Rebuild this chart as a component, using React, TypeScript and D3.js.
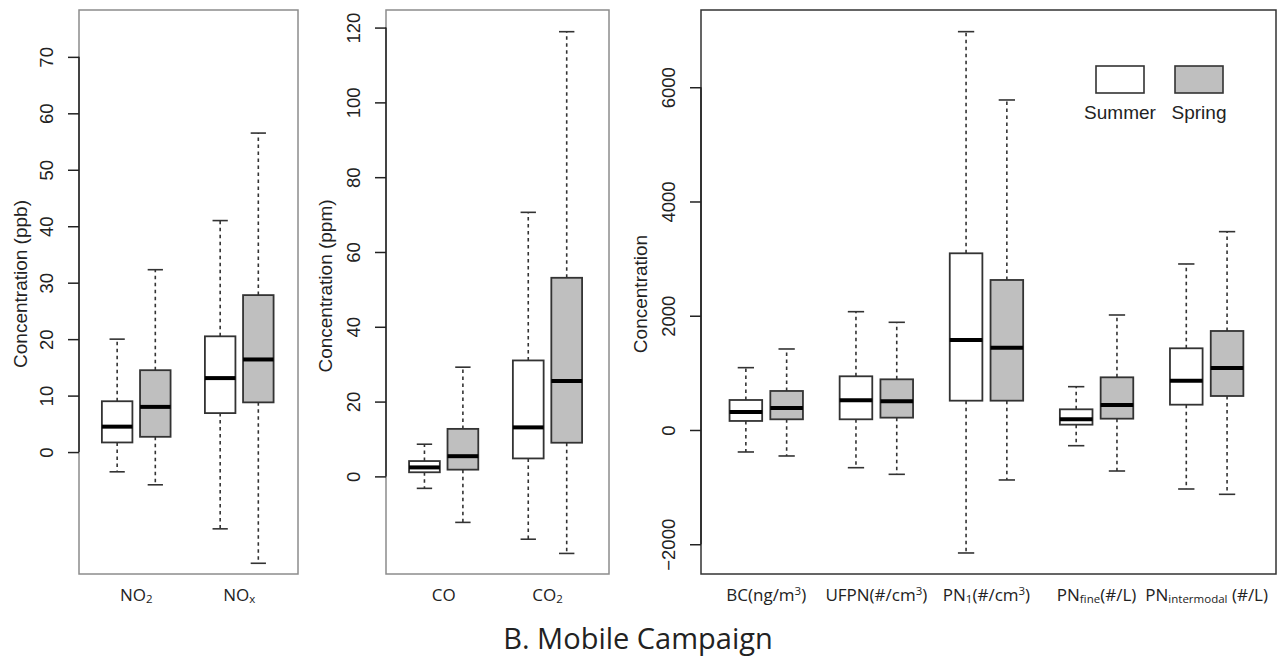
import React, { useEffect, useRef } from 'react';
import * as d3 from 'd3';

// each stat row: [lower whisker, Q1, median, Q3, upper whisker]
const nitroCats = ['NO2', 'NOx'];
const nitroSummer = [[-3.5, 1.7, 4.5, 9.0, 20.0], [-13.6, 6.9, 13.1, 20.5, 41.0]];
const nitroSpring = [[-5.8, 2.7, 8.0, 14.5, 32.3], [-19.7, 8.8, 16.4, 27.8, 56.5]];
const nitroTicks = [0, 10, 20, 30, 40, 50, 60, 70];

const carbonCats = ['CO', 'CO2'];
const carbonSummer = [[-3.2, 1.1, 2.4, 4.1, 8.6], [-16.8, 4.8, 13.1, 31.0, 70.6]];
const carbonSpring = [[-12.3, 1.8, 5.4, 12.7, 29.2], [-20.6, 9.0, 25.5, 53.1, 118.9]];
const carbonTicks = [0, 20, 40, 60, 80, 100, 120];

const particleCats = ['BC', 'UFPN', 'PN1', 'PNfine', 'PNintermodal'];
const particleSummer = [
    [-385, 158, 315, 525, 1091],
    [-660, 187, 520, 940, 2071],
    [-2153, 513, 1575, 3093, 6973],
    [-275, 93, 187, 362, 758],
    [-1033, 443, 863, 1430, 2906]
];
const particleSpring = [
    [-455, 187, 385, 683, 1418],
    [-776, 216, 502, 887, 1885],
    [-875, 513, 1441, 2626, 5777],
    [-718, 198, 438, 922, 2013],
    [-1126, 595, 1085, 1733, 3472]
];
const particleTicks = [-2000, 0, 2000, 4000, 6000];

const seasons = ['Summer', 'Spring'];

// label pieces: [text, kind] kind = '' | 'sub' | 'sup'
const labelParts = {
    NO2: [['NO', ''], ['2', 'sub']],
    NOx: [['NO', ''], ['x', 'sub']],
    CO: [['CO', '']],
    CO2: [['CO', ''], ['2', 'sub']],
    BC: [['BC(ng/m', ''], ['3', 'sup'], [')', '']],
    UFPN: [['UFPN(#/cm', ''], ['3', 'sup'], [')', '']],
    PN1: [['PN', ''], ['1', 'sub'], ['(#/cm', ''], ['3', 'sup'], [')', '']],
    PNfine: [['PN', ''], ['fine', 'sub'], ['(#/L)', '']],
    PNintermodal: [['PN', ''], ['intermodal', 'sub'], [' (#/L)', '']]
};

const W = 1285;
const H = 656;
const plotTop = 10;
const plotBottom = 574;

export default function App() {
    const svgRef = useRef<SVGSVGElement>(null);

    useEffect(() => {
        document.body.style.margin = '0';

        const panels = [
            { cats: nitroCats, summer: nitroSummer, spring: nitroSpring, ticks: nitroTicks,
              yDomain: [-21.6, 78.3], left: 79, right: 298, xDomain: [0, 5.74],
              ylab: 'Concentration (ppb)', ylabX: 27, ylabY: 284, frame: '#8c8c8c', legend: false },
            { cats: carbonCats, summer: carbonSummer, spring: carbonSpring, ticks: carbonTicks,
              yDomain: [-26.1, 124.7], left: 386, right: 609, xDomain: [0, 5.8],
              ylab: 'Concentration (ppm)', ylabX: 332, ylabY: 286, frame: '#8c8c8c', legend: false },
            { cats: particleCats, summer: particleSummer, spring: particleSpring, ticks: particleTicks,
              yDomain: [-2521, 7352], left: 701, right: 1276, xDomain: [-0.1, 14],
              ylab: 'Concentration', ylabX: 647, ylabY: 294, frame: '#333', legend: true }
        ];

        const svg = d3.select(svgRef.current);
        svg.selectAll('*').remove();

        const fills = { Summer: '#ffffff', Spring: '#bfbfbf' };

        panels.forEach(p => {
            const x = d3.scaleLinear().domain(p.xDomain).range([p.left, p.right]);
            const y = d3.scaleLinear().domain(p.yDomain).range([plotBottom, plotTop]);
            const g = svg.append('g');

            // frame
            g.append('rect')
                .attr('x', p.left)
                .attr('y', plotTop)
                .attr('width', p.right - p.left)
                .attr('height', plotBottom - plotTop)
                .attr('fill', 'none')
                .attr('stroke', p.frame)
                .attr('stroke-width', 1.5);

            // y axis
            const axis = g.append('g')
                .attr('transform', `translate(${p.left},0)`)
                .call(d3.axisLeft(y).tickValues(p.ticks).tickSize(11).tickFormat(d3.format('d')));
            axis.select('.domain').remove();
            axis.append('line')
                .attr('y1', y(d3.min(p.ticks)))
                .attr('y2', y(d3.max(p.ticks)))
                .attr('stroke', '#222')
                .attr('stroke-width', 1.5);
            axis.selectAll('.tick line').attr('stroke', '#222').attr('stroke-width', 1.5);
            axis.selectAll('.tick text')
                .attr('x', null)
                .attr('dy', null)
                .attr('transform', 'translate(-26,0) rotate(-90)')
                .attr('text-anchor', 'middle')
                .attr('fill', '#222')
                .style('font-family', '"Liberation Sans", Arial, sans-serif')
                .style('font-size', '18.5px');

            // y label
            g.append('text')
                .attr('transform', `translate(${p.ylabX},${p.ylabY}) rotate(-90)`)
                .attr('text-anchor', 'middle')
                .attr('fill', '#222')
                .style('font-family', '"Liberation Sans", Arial, sans-serif')
                .style('font-size', '19px')
                .text(p.ylab);

            // boxes
            p.cats.forEach((cat, ci) => {
                seasons.forEach((season, si) => {
                    const s = (si === 0 ? p.summer : p.spring)[ci];
                    const pos = 1 + ci * 2.7 + si;
                    const cx = x(pos);
                    const bx0 = x(pos - 0.4);
                    const bx1 = x(pos + 0.4);
                    const capHalf = (bx1 - bx0) / 4;

                    // whiskers
                    [[s[3], s[4]], [s[1], s[0]]].forEach(([a, b]) => {
                        g.append('line')
                            .attr('x1', cx).attr('x2', cx)
                            .attr('y1', y(a)).attr('y2', y(b))
                            .attr('stroke', '#333')
                            .attr('stroke-width', 1.6)
                            .attr('stroke-dasharray', '3.5,3.5');
                    });
                    [s[0], s[4]].forEach(v => {
                        g.append('line')
                            .attr('x1', cx - capHalf).attr('x2', cx + capHalf)
                            .attr('y1', y(v)).attr('y2', y(v))
                            .attr('stroke', '#333')
                            .attr('stroke-width', 1.6);
                    });

                    g.append('rect')
                        .attr('x', bx0)
                        .attr('y', y(s[3]))
                        .attr('width', bx1 - bx0)
                        .attr('height', y(s[1]) - y(s[3]))
                        .attr('fill', fills[season])
                        .attr('stroke', '#333')
                        .attr('stroke-width', 1.8);

                    g.append('line')
                        .attr('x1', bx0).attr('x2', bx1)
                        .attr('y1', y(s[2])).attr('y2', y(s[2]))
                        .attr('stroke', '#000')
                        .attr('stroke-width', 4);
                });

                // category label
                const t = g.append('text')
                    .attr('x', x(1 + ci * 2.7 + 0.5))
                    .attr('y', 601)
                    .attr('text-anchor', 'middle')
                    .attr('fill', '#222')
                    .style('font-family', '"Open Sans", sans-serif')
                    .style('font-size', '17px');
                let shift = 0;
                labelParts[cat].forEach(([txt, kind]) => {
                    const target = kind === 'sup' ? -6 : kind === 'sub' ? 1.5 : 0;
                    t.append('tspan')
                        .attr('dy', target - shift)
                        .style('font-size', kind === '' ? '17px' : '11.5px')
                        .text(txt);
                    shift = target;
                });
            });

            // legend
            if (p.legend) {
                const legendX = [1096, 1175];
                seasons.forEach((season, i) => {
                    g.append('rect')
                        .attr('x', legendX[i])
                        .attr('y', 66)
                        .attr('width', 48)
                        .attr('height', 27)
                        .attr('fill', fills[season])
                        .attr('stroke', '#333')
                        .attr('stroke-width', 1.6);
                    g.append('text')
                        .attr('x', legendX[i] + 24)
                        .attr('y', 119)
                        .attr('text-anchor', 'middle')
                        .attr('fill', '#222')
                        .style('font-family', '"Liberation Sans", Arial, sans-serif')
                        .style('font-size', '19px')
                        .text(season);
                });
            }
        });

        // title
        svg.append('text')
            .attr('x', 638)
            .attr('y', 649)
            .attr('text-anchor', 'middle')
            .attr('fill', '#222')
            .style('font-family', '"Open Sans", sans-serif')
            .style('font-size', '29px')
            .text('B. Mobile Campaign');
    }, []);

    return (
        <svg ref={svgRef} width={W} height={H} style={{ display: 'block', background: '#fff' }}></svg>
    );
}
